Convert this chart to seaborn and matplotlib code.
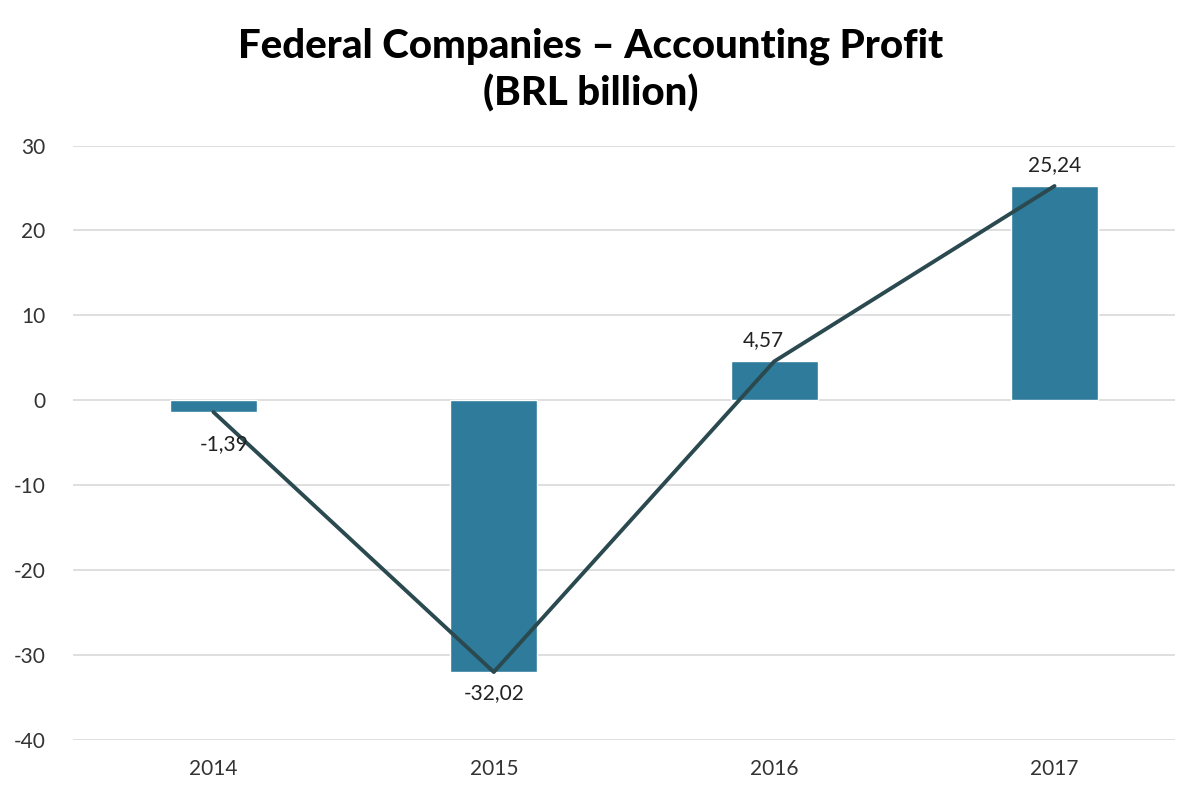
import numpy as np
import pandas as pd
import seaborn as sns
import matplotlib.pyplot as plt

years = ['2014', '2015', '2016', '2017']
profit = [-1.39, -32.02, 4.57, 25.24]
labels = ['-1,39', '-32,02', '4,57', '25,24']

df = pd.DataFrame({'year': years, 'profit': profit})

sns.set_style('white')
plt.rcParams['font.family'] = ['Lato', 'DejaVu Sans']
plt.rcParams['axes.unicode_minus'] = False

fig = plt.figure(figsize=(11.81, 7.87), dpi=100)
ax = fig.add_axes([0.062, 0.06, 0.933, 0.755])

sns.barplot(x='year', y='profit', data=df, color='#2E7B9C', saturation=1,
            width=0.31, ax=ax, zorder=2)
sns.lineplot(x=np.arange(len(years)), y=profit, color='#2B4A50', linewidth=2.8,
             ax=ax, zorder=3)

for i, (v, t) in enumerate(zip(profit, labels)):
    if v < 0:
        ax.annotate(t, (i, v), xytext=(8 if i == 0 else 0, -16 if i == 0 else -8),
                    textcoords='offset points', ha='center', va='top',
                    fontsize=15, color='#222222')
    else:
        ax.annotate(t, (i, v), xytext=(-8 if i == 2 else 0, 8), textcoords='offset points',
                    ha='center', va='bottom', fontsize=15, color='#222222')

ax.set_ylim(-40, 30)
ax.set_yticks(range(-40, 31, 10))
ax.set_xlim(-0.5, 3.43)
ax.grid(axis='y', color='#D9D9D9', linewidth=1.2, zorder=0)
ax.set_axisbelow(True)
for s in ax.spines.values():
    s.set_visible(False)
ax.set_xlabel('')
ax.set_ylabel('')
ax.tick_params(axis='both', length=0, labelsize=15, colors='#333333')
ax.tick_params(axis='y', pad=20)
ax.tick_params(axis='x', pad=14)

fig.suptitle('Federal Companies \u2013 Accounting Profit\n(BRL billion)', fontsize=29,
             fontweight='black', y=0.965, x=0.5, linespacing=1.3, color='black')

fig.savefig('out.png', dpi=100)
